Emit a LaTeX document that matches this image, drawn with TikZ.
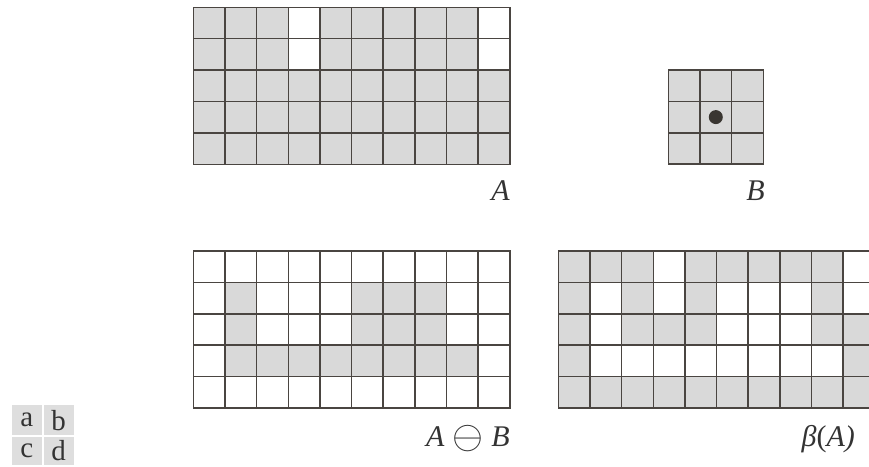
\documentclass[tikz,border=0pt]{standalone}
\usepackage{fontspec}
\usepackage{graphicx}
\usepackage{xcolor}
\usepackage{tikz}
\newfontfamily\namefont{Liberation Serif}
\definecolor{cellgray}{HTML}{D9D9D9}
\definecolor{gridink}{HTML}{4A4541}
\definecolor{tagbg}{HTML}{DEDEDE}
\definecolor{dotink}{HTML}{3A3632}
\definecolor{textink}{HTML}{333333}

\begin{document}
\begin{tikzpicture}[x=1pt, y=-1pt,
    cell/.style={fill=cellgray},
    gridline/.style={draw=gridink, line width=1.5pt, line cap=rect},
    setname/.style={anchor=base east, inner sep=0pt, text=textink,
      font=\namefont\fontsize{30}{32}\selectfont},
    tagcell/.style={fill=tagbg, anchor=north west, inner sep=0pt,
      minimum width=30pt, minimum height=30pt, text=textink,
      font=\namefont\fontsize{29}{30}\selectfont}
  ]
  \useasboundingbox (0,0) rectangle (869,466);
  \clip (0,0) rectangle (869,466);

  % set A
  \begin{scope}[shift={(193.3,7.3)}]
    \foreach \r/\cols in {0/{0,1,2,4,5,6,7,8}, 1/{0,1,2,4,5,6,7,8},
        2/{0,1,2,3,4,5,6,7,8,9}, 3/{0,1,2,3,4,5,6,7,8,9},
        4/{0,1,2,3,4,5,6,7,8,9}}
      \foreach \c in \cols
        \fill[cell] (\c*31.65,\r*31.4) rectangle ++(31.65,31.4);
    \foreach \i in {0,...,10}
      \draw[gridline] (\i*31.65,0) -- (\i*31.65,157);
    \foreach \j in {0,...,5}
      \draw[gridline] (0,\j*31.4) -- (316.5,\j*31.4);
  \end{scope}
  \node[setname] (nameA) at (510,200) {\itshape A};

  % structuring element B
  \begin{scope}[shift={(668.3,70)}]
    \fill[cell] (0,0) rectangle (94.95,94.2);
    \foreach \i in {0,...,3}
      \draw[gridline] (\i*31.65,0) -- (\i*31.65,94.2);
    \foreach \j in {0,...,3}
      \draw[gridline] (0,\j*31.4) -- (94.95,\j*31.4);
    \fill[dotink] (47.5,47.1) circle (7);
  \end{scope}
  \node[setname] (nameB) at (765,200) {\itshape B};

  % erosion
  \begin{scope}[shift={(193.3,251)}]
    \foreach \r/\cols in {1/{1,5,6,7}, 2/{1,5,6,7}, 3/{1,2,3,4,5,6,7,8}}
      \foreach \c in \cols
        \fill[cell] (\c*31.65,\r*31.4) rectangle ++(31.65,31.4);
    \foreach \i in {0,...,10}
      \draw[gridline] (\i*31.65,0) -- (\i*31.65,157);
    \foreach \j in {0,...,5}
      \draw[gridline] (0,\j*31.4) -- (316.5,\j*31.4);
  \end{scope}
  \node[setname] (nameErode) at (510,446.5)
    {\itshape A\hspace{8pt}\raisebox{-2pt}{\scalebox{1.6}{$\ominus$}}\hspace{8pt}B};

  % boundary
  \begin{scope}[shift={(558.3,251)}]
    \foreach \r/\cols in {0/{0,1,2,4,5,6,7,8}, 1/{0,2,4,8},
        2/{0,2,3,4,8,9}, 3/{0,9}, 4/{0,1,2,3,4,5,6,7,8,9}}
      \foreach \c in \cols
        \fill[cell] (\c*31.65,\r*31.4) rectangle ++(31.65,31.4);
    \foreach \i in {0,...,10}
      \draw[gridline] (\i*31.65,0) -- (\i*31.65,157);
    \foreach \j in {0,...,5}
      \draw[gridline] (0,\j*31.4) -- (316.5,\j*31.4);
  \end{scope}
  \node[setname, anchor=base west] (nameBound) at (801.5,446.5)
    {{\itshape β}(\itshape A)};

  % panel key
  \node[tagcell] (tagA) at (11.7,405) {a};
  \node[tagcell] (tagB) at (43.3,405) {b};
  \node[tagcell, minimum height=28pt] (tagC) at (11.7,436.7) {c};
  \node[tagcell, minimum height=28pt] (tagD) at (43.3,436.7) {d};
\end{tikzpicture}
\end{document}
